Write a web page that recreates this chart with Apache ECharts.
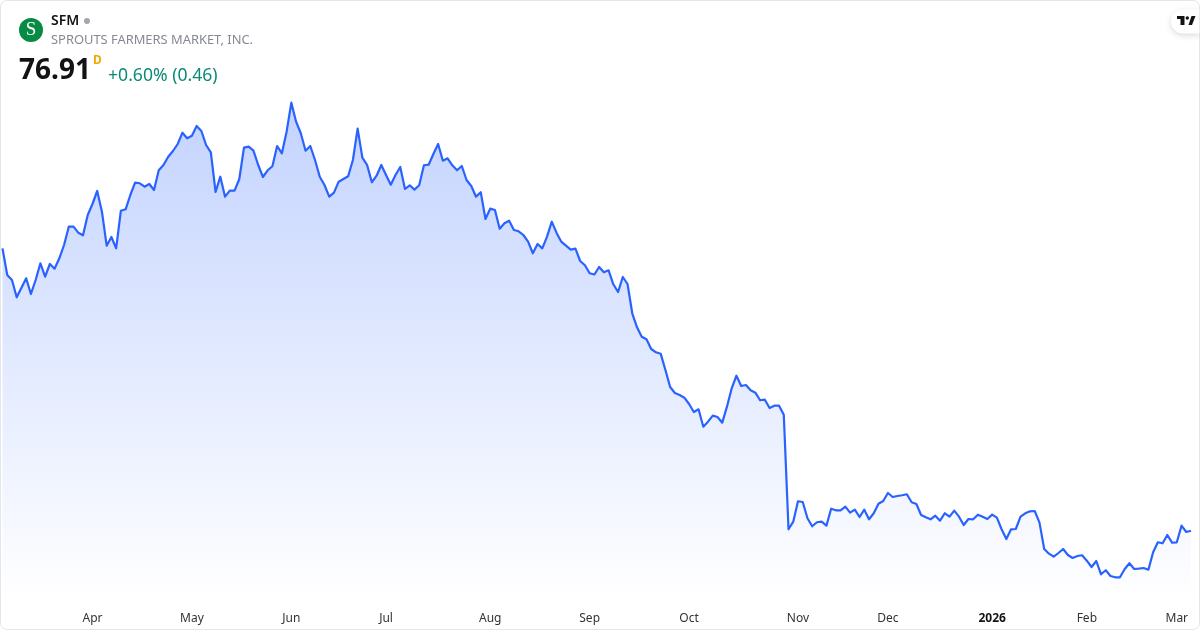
<!DOCTYPE html>
<html>
<head>
<meta charset="utf-8">
<style>html,body{margin:0;padding:0;background:#fff}#c{width:1200px;height:630px}</style>
<script src="https://cdn.jsdelivr.net/npm/echarts@6/dist/echarts.min.js"></script>
</head>
<body>
<div id="c"></div>
<script>
const symbol = 'SFM';
const companyName = 'SPROUTS FARMERS MARKET, INC.';
const lastPrice = '76.91';
const interval = 'D';
const changeText = '+0.60% (0.46)';
const tickIndexes = [19, 40, 61, 81, 103, 124, 145, 168, 187, 209, 229, 248];
const tickLabels = ['Apr', 'May', 'Jun', 'Jul', 'Aug', 'Sep', 'Oct', 'Nov', 'Dec', '2026', 'Feb', 'Mar'];
const closes2025H1 = [
147.51,140.84,139.59,135.26,137.67,140.02,136.09,139.59,143.77,140.42,143.59,142.42,145.02,148.34,152.92,152.92,151.42,150.77,155.84,158.59,
161.84,156.67,148.17,150.34,147.51,156.92,157.27,160.84,163.92,163.77,162.92,163.59,162.09,167.02,168.34,170.42,171.84,173.59,176.42,175.02,
175.67,178.09,176.84,173.34,171.52,161.59,165.42,160.42,161.92,161.92,164.77,172.67,172.92,171.92,168.34,165.34,167.02,168.02,173.09,171.27,
176.67,183.92,179.17,176.27,171.92,173.09,169.59,165.42,163.34,160.42,161.42,164.17,164.84,165.52,169.59,177.42,170.17,168.34,164.02,165.67,
168.34,165.84,163.42,165.84,167.84,162.34,163.27,162.17,163.27,168.27,168.42,171.09,173.59,169.42,170.02,168.27,167.02,168.09,164.59,163.09,
160.42,161.52,154.84,157.42,157.09,152.42,153.77,154.42,152.09,151.77,150.84,149.17,146.27,148.59,147.51,150.42,154.17,151.42,149.17,148.17
];
const closes2025H2 = [
147.17,147.42,144.34,143.27,141.27,140.97,142.84,141.52,142.02,138.52,136.59,140.34,138.59,131.27,127.77,125.42,124.77,122.34,121.52,121.17,
117.09,112.84,111.34,110.84,110.17,108.59,106.59,107.27,102.92,104.17,105.67,105.34,103.92,107.92,112.52,115.67,113.09,113.34,112.02,111.42,
109.52,109.67,107.59,108.17,108.17,105.92,77.27,79.17,84.27,84.09,80.02,78.02,79.02,79.17,78.17,82.42,82.02,82.02,82.92,81.42,
82.17,80.34,82.17,79.77,81.27,83.67,84.34,86.34,85.34,85.59,85.77,86.02,84.02,83.59,80.84,80.27,79.77,80.67,79.42,81.27,
80.42,81.92,80.42,78.34,79.84,79.77,80.92,80.42,79.84
];
const closes2026 = [
80.92,80.17,77.27,74.84,77.27,77.34,80.42,81.27,81.77,81.84,78.92,72.34,71.17,70.42,71.34,72.34,70.84,70.09,70.59,70.77,
69.42,67.84,69.34,66.02,67.02,65.59,65.27,65.27,67.34,68.77,67.34,67.42,67.59,67.17,71.52,74.02,73.77,75.84,73.92,74.02,
78.17,76.59,76.91
];
const closes = closes2025H1.concat(closes2025H2, closes2026);
const categories = closes.map((_, i) => String(i));
const labelAt = {};
tickIndexes.forEach((idx, k) => { labelAt[idx] = tickLabels[k]; });

const font = '"Noto Sans", sans-serif';
const chart = echarts.init(document.getElementById('c'), null, { renderer: 'canvas', width: 1200, height: 630 });
chart.setOption({
  animation: false,
  backgroundColor: '#ffffff',
  grid: { left: 2.5, width: 1188.5, top: 0, height: 600, containLabel: false },
  xAxis: {
    type: 'category',
    data: categories,
    boundaryGap: false,
    axisLine: { show: false },
    axisTick: { show: false },
    splitLine: { show: false },
    axisLabel: {
      interval: (i) => labelAt[i] !== undefined,
      hideOverlap: false,
      margin: 13,
      formatter: (v, i) => {
        const t = labelAt[i] || '';
        return t === '2026' ? '{b|' + t + '}' : t;
      },
      color: '#333333',
      fontFamily: font,
      fontSize: 12,
      rich: { b: { fontWeight: 700, color: '#131313', fontFamily: font, fontSize: 12 } }
    }
  },
  yAxis: { type: 'value', min: 59.59, max: 209.59, show: false, splitLine: { show: false } },
  series: [{
    type: 'line',
    data: closes,
    showSymbol: false,
    symbol: 'none',
    smooth: false,
    lineStyle: { color: '#2962ff', width: 2.2, join: 'round' },
    areaStyle: {
      origin: 'start',
      opacity: 1,
      color: new echarts.graphic.LinearGradient(0, 0, 0, 1, [
        { offset: 0, color: 'rgba(41,98,255,0.28)' },
        { offset: 1, color: 'rgba(41,98,255,0)' }
      ])
    }
  }],
  graphic: [
    { type: 'rect', shape: { x: 0.5, y: 0.5, width: 1199, height: 629, r: 6 }, style: { fill: 'none', stroke: '#e5e6e9', lineWidth: 1 }, z: 50 },
    { type: 'circle', shape: { cx: 31, cy: 30, r: 12 }, style: { fill: '#078a43' }, z: 60 },
    { type: 'text', x: 31, y: 30.5, style: { text: 'S', fill: '#ffffff', font: '400 19px "Liberation Serif", serif', align: 'center', verticalAlign: 'middle' }, z: 61 },
    { type: 'text', x: 51, y: 21, style: { text: symbol, fill: '#131313', font: '600 14px ' + font, verticalAlign: 'middle' }, z: 60 },
    { type: 'circle', shape: { cx: 87, cy: 21, r: 3 }, style: { fill: '#a3a6af' }, z: 60 },
    { type: 'text', x: 51, y: 40.5, style: { text: companyName, fill: '#868993', font: '400 12.9px ' + font, verticalAlign: 'middle' }, z: 60 },
    { type: 'text', x: 19, y: 71, style: { text: lastPrice, fill: '#131313', font: '700 28px ' + font, verticalAlign: 'middle' }, z: 60 },
    { type: 'text', x: 93, y: 61, style: { text: interval, fill: '#f7a600', font: '700 12px ' + font, verticalAlign: 'middle' }, z: 60 },
    { type: 'text', x: 108, y: 75.5, style: { text: changeText, fill: '#0b8a76', font: '400 17.6px ' + font, verticalAlign: 'middle' }, z: 60 },
    { type: 'rect', shape: { x: 1171, y: 9.5, width: 28.5, height: 24, r: [12, 0, 0, 12] }, style: { fill: '#ffffff', shadowBlur: 6, shadowColor: 'rgba(0,0,0,0.15)', shadowOffsetY: 2 }, z: 70 },
    { type: 'polygon', shape: { points: [[1177, 16], [1184.5, 16], [1184.5, 25], [1180.5, 25], [1180.5, 19], [1177, 19]] }, style: { fill: '#131313' }, z: 71 },
    { type: 'polygon', shape: { points: [[1188.5, 25], [1191.5, 16], [1195.5, 16], [1192, 25]] }, style: { fill: '#131313' }, z: 71 },
    { type: 'circle', shape: { cx: 1187.3, cy: 18, r: 1.7 }, style: { fill: '#131313' }, z: 71 }
  ]
});
</script>
</body>
</html>
